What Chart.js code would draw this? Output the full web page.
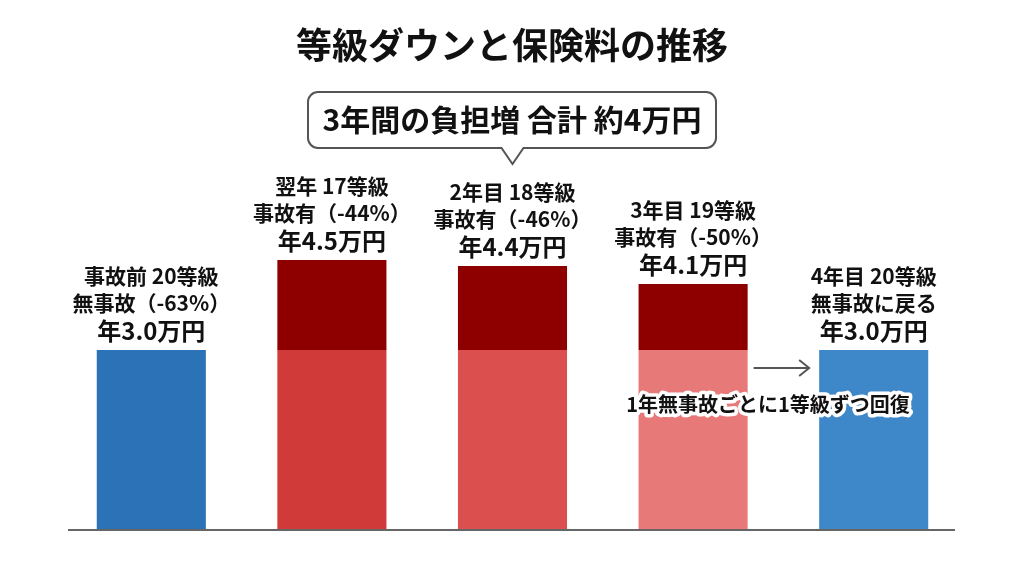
<!DOCTYPE html>
<html lang="ja">
<head>
<meta charset="utf-8">
<script src="https://cdn.jsdelivr.net/npm/chart.js"></script>
<style>
  html, body { margin: 0; padding: 0; background: #fff; }
  #wrap { width: 1024px; height: 572px; position: relative; }
</style>
</head>
<body>
<div id="wrap"><canvas id="chart" width="1024" height="572"></canvas></div>
<script>
// --------- data ---------
const categories = ["事故前", "翌年", "2年目", "3年目", "4年目"];
const basePremium = [3.0, 3.0, 3.0, 3.0, 3.0];
const increase = [0, 1.5, 1.4, 1.1, 0];
const gradeLines = ["事故前 20等級", "翌年 17等級", "2年目 18等級", "3年目 19等級", "4年目 20等級"];
const statusLines = ["無事故（-63%）", "事故有（-44%）", "事故有（-46%）", "事故有（-50%）", "無事故に戻る"];
const premiumLines = ["年3.0万円", "年4.5万円", "年4.4万円", "年4.1万円", "年3.0万円"];

const baseColors = ["#2b73b6", "#d03b39", "#dc4f4f", "#e87979", "#3e88ca"];
const FONT = "'Noto Sans CJK JP', 'Noto Sans', sans-serif";

// --------- text / decorations ---------
const decor = {
  id: "decor",
  afterDatasetsDraw(chart) {
    const { ctx, scales: { x, y }, chartArea } = chart;
    ctx.save();

    // baseline
    ctx.strokeStyle = "#666";
    ctx.lineWidth = 2;
    ctx.beginPath();
    ctx.moveTo(68, chartArea.bottom);
    ctx.lineTo(955, chartArea.bottom);
    ctx.stroke();

    // title
    ctx.fillStyle = "#111";
    ctx.textAlign = "center";
    ctx.textBaseline = "middle";
    ctx.font = "bold 36px " + FONT;
    ctx.fillText("等級ダウンと保険料の推移", 512, 45);

    // callout bubble
    const bx = 308, by = 92, bw = 408, bh = 56, r = 10, tipX = x.getPixelForValue(2);
    ctx.beginPath();
    ctx.moveTo(bx + r, by);
    ctx.lineTo(bx + bw - r, by);
    ctx.arcTo(bx + bw, by, bx + bw, by + r, r);
    ctx.lineTo(bx + bw, by + bh - r);
    ctx.arcTo(bx + bw, by + bh, bx + bw - r, by + bh, r);
    ctx.lineTo(tipX + 11, by + bh);
    ctx.lineTo(tipX, by + bh + 16);
    ctx.lineTo(tipX - 11, by + bh);
    ctx.lineTo(bx + r, by + bh);
    ctx.arcTo(bx, by + bh, bx, by + bh - r, r);
    ctx.lineTo(bx, by + r);
    ctx.arcTo(bx, by, bx + r, by, r);
    ctx.closePath();
    ctx.fillStyle = "#fff";
    ctx.fill();
    ctx.strokeStyle = "#555";
    ctx.lineWidth = 2;
    ctx.stroke();
    ctx.fillStyle = "#111";
    ctx.font = "bold 30px " + FONT;
    ctx.fillText("3年間の負担増 合計 約4万円", 512, by + bh / 2);

    // labels above bars
    categories.forEach((c, i) => {
      const cx = x.getPixelForValue(i);
      const top = y.getPixelForValue(basePremium[i] + increase[i]);
      ctx.fillStyle = "#111";
      ctx.font = "bold 24px " + FONT;
      ctx.fillText(premiumLines[i], cx, top - 19);
      ctx.font = "bold 21px " + FONT;
      ctx.fillText(statusLines[i], cx, top - 47);
      ctx.fillText(gradeLines[i], cx, top - 74);
    });

    // arrow between bar 4 and bar 5
    const meta = chart.getDatasetMeta(0);
    const x1 = meta.data[3].x + meta.data[3].width / 2 + 6;
    const x2 = meta.data[4].x - meta.data[4].width / 2 - 10;
    const ay = y.getPixelForValue(2.7);
    ctx.strokeStyle = "#555";
    ctx.lineWidth = 2;
    ctx.beginPath();
    ctx.moveTo(x1, ay);
    ctx.lineTo(x2, ay);
    ctx.moveTo(x2 - 10, ay - 8);
    ctx.lineTo(x2, ay);
    ctx.lineTo(x2 - 10, ay + 8);
    ctx.stroke();

    // recovery note with white halo
    ctx.font = "bold 20px " + FONT;
    ctx.lineJoin = "round";
    ctx.strokeStyle = "#fff";
    ctx.lineWidth = 7;
    const ny = y.getPixelForValue(2.1);
    ctx.strokeText("1年無事故ごとに1等級ずつ回復", 768, ny);
    ctx.fillStyle = "#111";
    ctx.fillText("1年無事故ごとに1等級ずつ回復", 768, ny);

    ctx.restore();
  }
};

new Chart(document.getElementById("chart"), {
  type: "bar",
  data: {
    labels: categories,
    datasets: [
      { label: "通常保険料", data: basePremium, backgroundColor: baseColors },
      { label: "負担増", data: increase, backgroundColor: "#8e0000" }
    ]
  },
  options: {
    responsive: false,
    animation: false,
    layout: { padding: { left: 61, right: 60, top: 50, bottom: 42 } },
    datasets: { bar: { barPercentage: 1, categoryPercentage: 0.604, borderWidth: 0 } },
    plugins: { legend: { display: false }, tooltip: { enabled: false } },
    scales: {
      x: { stacked: true, display: false },
      y: { stacked: true, display: false, min: 0, max: 8 }
    }
  },
  plugins: [decor]
});
</script>
</body>
</html>
